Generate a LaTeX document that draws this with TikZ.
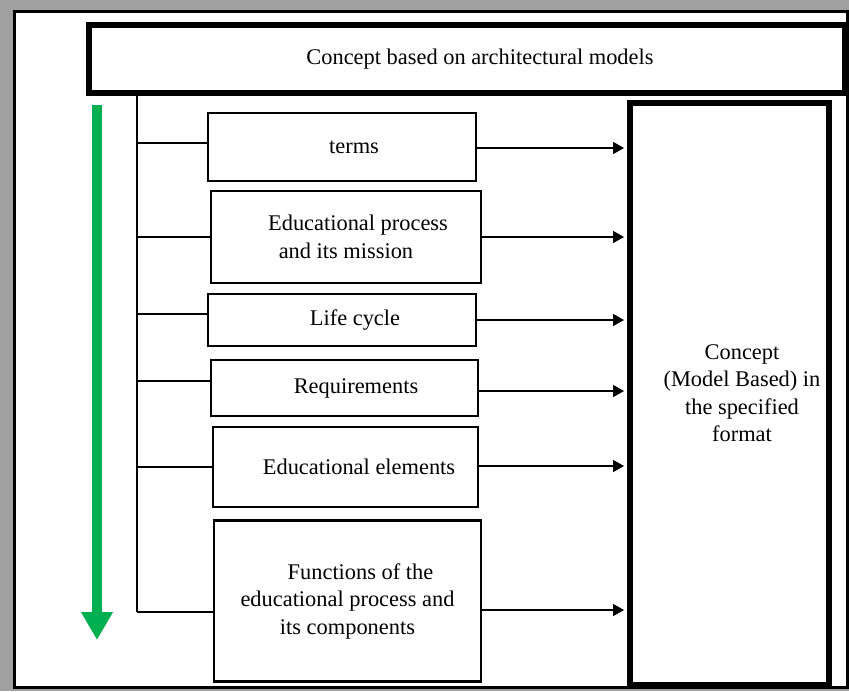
\documentclass[tikz,border=0pt]{standalone}
\usepackage{fontspec}
\setmainfont{Liberation Serif}
\usetikzlibrary{arrows.meta}
\definecolor{flowgreen}{RGB}{0,176,80}
\definecolor{framegray}{RGB}{160,160,160}
\newcommand{\pad}[1]{\hspace*{#1pt}}
\begin{document}
\begin{tikzpicture}[x=1pt,y=-1pt,
  every node/.style={font=\fontsize{22.4}{27.5}\selectfont},
  item/.style={draw,line width=2.6pt,align=center,inner sep=0pt},
  feed/.style={line width=1.5pt,shorten >=3pt,-{Triangle[length=11pt,width=12pt]}}]
% Draw frame
\fill[framegray] (0,0) rectangle (849,691);
\draw[fill=white,line width=3pt] (14,11) rectangle (847.5,687);
% Draw heading and result
\node[draw,line width=6pt,minimum width=756pt,minimum height=68pt,inner sep=0pt] (top) at (467,59) {\pad{26}Concept based on architectural models};
\node[draw,line width=6pt,minimum width=199pt,minimum height=582pt,inner sep=0pt] (concept) at (729.5,394) {};
\node[align=center] (conceptlbl) at (742,393) {Concept\\(Model Based) in\\the specified\\format};
% Draw items
\node[item,minimum width=268pt,minimum height=68pt] (t1) at (342,147) {\pad{24}terms};
\node[item,minimum width=270pt,minimum height=92pt] (t2) at (346,237) {\pad{24}Educational process\\and its mission};
\node[item,minimum width=268pt,minimum height=52pt] (t3) at (342,320) {\pad{26}Life cycle};
\node[item,minimum width=267pt,minimum height=56pt] (t4) at (344.5,388) {\pad{23}Requirements};
\node[item,minimum width=265pt,minimum height=80pt] (t5) at (345.5,467) {\pad{27}Educational elements};
\node[item,minimum width=267pt,minimum height=161pt] (t6) at (347.5,601) {\pad{26}Functions of the\\educational process and\\its components};
% Draw trunk and branches
\coordinate (trunk) at (137,96);
\coordinate (trunkend) at (137,612);
\draw[line width=2.6pt] (trunk) -- (trunkend);
\foreach \b/\s in {t1/4,t2/0,t3/6,t4/7,t5/0}
  \draw[line width=2.6pt] ([yshift=\s pt]\b.west) -- ([yshift=\s pt]\b.west -| trunk);
\draw[line width=2.6pt] (trunkend) -- (trunkend -| t6.west);
% Draw arrows to result
\foreach \b/\s in {t1/-1,t2/0,t3/0,t4/-3,t5/1,t6/-9}
  \draw[feed] ([yshift=\s pt]\b.east) -- ([yshift=\s pt]\b.east -| concept.west);
% Green flow arrow
\coordinate (flowtop) at (97,105);
\coordinate (flowend) at (97,640);
\draw[flowgreen,line width=10pt,-{Triangle[length=28pt,width=30pt]}] (flowtop) -- (flowend);
\end{tikzpicture}
\end{document}
